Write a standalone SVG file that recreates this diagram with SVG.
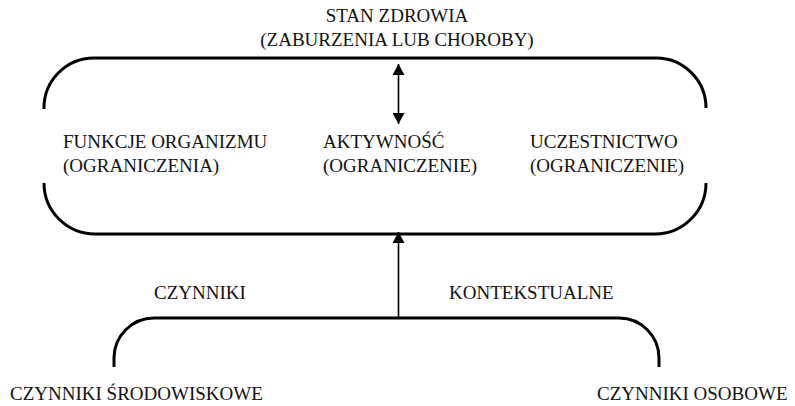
<svg xmlns="http://www.w3.org/2000/svg" width="795" height="406" viewBox="0 0 795 406">
  <style>
    .t { font-family: "Liberation Serif", "Times New Roman", serif; font-size: 19px; fill: #111; }
    .brace { fill: none; stroke: #000; stroke-width: 3; }
    .arr { fill: none; stroke: #000; stroke-width: 1.6; }
  </style>
  <defs>
    <marker id="ah" markerUnits="userSpaceOnUse" markerWidth="12" markerHeight="12" refX="11" refY="6" orient="auto-start-reverse">
      <path d="M0,0 L11,6 L0,12 Z" fill="#000"/>
    </marker>
  </defs>
  <rect width="795" height="406" fill="#fff"/>

  <g id="stan-zdrowia">
    <text class="t" x="397" y="22" text-anchor="middle">STAN ZDROWIA</text>
    <text class="t" x="397" y="46" text-anchor="middle">(ZABURZENIA LUB CHOROBY)</text>
  </g>

  <g id="main-frame">
    <path class="brace" d="M44,109 A50,50 0 0 1 94,58 L656,58 A50,50 0 0 1 706,108"/>
    <path class="brace" d="M44,183 A51,51 0 0 0 95,234 L655,234 A51,51 0 0 0 706,183"/>
  </g>

  <g id="funkcje">
    <text class="t" x="63" y="148">FUNKCJE ORGANIZMU</text>
    <text class="t" x="63" y="172">(OGRANICZENIA)</text>
  </g>
  <g id="aktywnosc">
    <text class="t" x="323" y="148">AKTYWNOŚĆ</text>
    <text class="t" x="323" y="172">(OGRANICZENIE)</text>
  </g>
  <g id="uczestnictwo">
    <text class="t" x="530" y="148">UCZESTNICTWO</text>
    <text class="t" x="530" y="172">(OGRANICZENIE)</text>
  </g>

  <g id="czynniki-frame">
    <path class="brace" d="M114,367 L114,358 A40,40 0 0 1 154,318 L619,318 A40,40 0 0 1 659,358 L659,367"/>
  </g>

  <g id="czynniki-kontekstualne">
    <text class="t" x="154" y="299">CZYNNIKI</text>
    <text class="t" x="449" y="299">KONTEKSTUALNE</text>
  </g>
  <g id="czynniki-srodowiskowe">
    <text class="t" x="10" y="400">CZYNNIKI ŚRODOWISKOWE</text>
  </g>
  <g id="czynniki-osobowe">
    <text class="t" x="597" y="400">CZYNNIKI OSOBOWE</text>
  </g>

  <g id="connectors">
    <line class="arr" x1="398.5" y1="64" x2="398.5" y2="124" marker-start="url(#ah)" marker-end="url(#ah)"/>
    <line class="arr" x1="398.5" y1="317" x2="398.5" y2="232" marker-end="url(#ah)"/>
  </g>
</svg>
